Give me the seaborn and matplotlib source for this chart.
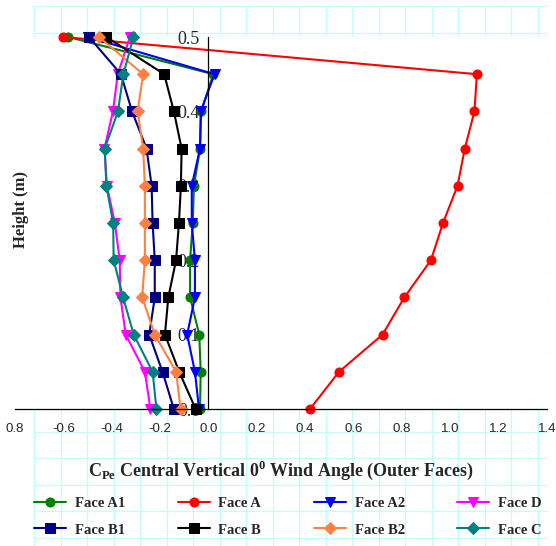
import pandas as pd
import matplotlib.pyplot as plt
import matplotlib
import seaborn as sns
from matplotlib.lines import Line2D

# data (heights from top to bottom)
heights = [0.5, 0.45, 0.4, 0.35, 0.3, 0.25, 0.2, 0.15, 0.1, 0.05, 0.0]
face_a1 = [-0.58, 0.02, -0.03, -0.035, -0.06, -0.065, -0.076, -0.076, -0.038, -0.032, -0.035]
face_a = [-0.60, 1.11, 1.10, 1.06, 1.03, 0.97, 0.92, 0.81, 0.72, 0.54, 0.42]
face_a2 = [-0.50, 0.025, -0.032, -0.035, -0.069, -0.069, -0.056, -0.056, -0.088, -0.056, -0.039]
face_d = [-0.325, -0.375, -0.395, -0.43, -0.42, -0.387, -0.367, -0.364, -0.342, -0.263, -0.24]
face_b1 = [-0.494, -0.362, -0.316, -0.256, -0.235, -0.231, -0.222, -0.222, -0.245, -0.19, -0.143]
face_b = [-0.422, -0.183, -0.143, -0.111, -0.114, -0.122, -0.134, -0.166, -0.18, -0.121, -0.053]
face_b2 = [-0.453, -0.27, -0.293, -0.27, -0.263, -0.263, -0.263, -0.274, -0.222, -0.134, -0.115]
face_c = [-0.31, -0.352, -0.374, -0.429, -0.422, -0.394, -0.392, -0.353, -0.309, -0.231, -0.215]

x_ticks = [-0.8, -0.6, -0.4, -0.2, 0.0, 0.2, 0.4, 0.6, 0.8, 1.0, 1.2, 1.4]
x_tick_labels = ["0.8", "-0.6", "-0.4", "-0.2", "0.0", "0.2", "0.4", "0.6", "0.8", "1.0", "1.2", "1.4"]
y_ticks = [0.0, 0.1, 0.2, 0.3, 0.4, 0.5]
y_tick_labels = ["0.0", "0.1", "0.2", "0.3", "0.4", "0.5"]

df = pd.DataFrame({"height": heights, "Face A1": face_a1, "Face A": face_a,
                   "Face A2": face_a2, "Face D": face_d, "Face B1": face_b1,
                   "Face B": face_b, "Face B2": face_b2, "Face C": face_c})

styles = {
    "Face A1": ("#008000", "o"),
    "Face A": ("#FF0000", "o"),
    "Face A2": ("#0000FF", "v"),
    "Face D": ("#FF00FF", "v"),
    "Face B1": ("#000080", "s"),
    "Face B": ("#000000", "s"),
    "Face B2": ("#FF8040", "D"),
    "Face C": ("#008080", "D"),
}

sns.set_theme(style="white")
matplotlib.rcParams['font.family'] = ['Liberation Serif', 'DejaVu Serif']
matplotlib.rcParams['mathtext.fontset'] = 'custom'
matplotlib.rcParams['mathtext.rm'] = 'Liberation Serif:bold'
matplotlib.rcParams['mathtext.bf'] = 'Liberation Serif:bold'

W, H = 556, 546
fig = plt.figure(figsize=(W / 100, H / 100), dpi=100)
fig.patch.set_facecolor("white")

# spreadsheet cell lines showing behind the chart
cell_col = "#C4FCFC"
for i in range(20):
    xp = 34 + 26.5 * i
    fig.add_artist(Line2D([xp / W, xp / W], [1 - 6 / H, 0], transform=fig.transFigure,
                          color=cell_col, lw=0.9, zorder=-5))
for j in range(21):
    yp = 6 + 26.6 * j
    fig.add_artist(Line2D([34 / W, 547 / W], [1 - yp / H, 1 - yp / H], transform=fig.transFigure,
                          color=cell_col, lw=0.9, zorder=-5))

ax = fig.add_axes([15 / W, 1 - 409 / H, 532 / W, 372 / H])
ax.set_facecolor("white")

for name, (col, mk) in styles.items():
    ms = 7.5 if mk == "v" else 6.5
    sns.lineplot(data=df, x=name, y="height", orient="y", ax=ax, color=col,
                 marker=mk, markersize=ms, markeredgecolor=col, linewidth=1.5,
                 label=name, clip_on=False)

ax.set_xlim(-0.8, 1.4)
ax.set_ylim(0, 0.5)
ax.spines["top"].set_visible(False)
ax.spines["right"].set_visible(False)
ax.spines["left"].set_position(("data", 0))
ax.spines["bottom"].set_position(("data", 0))
for s in ("left", "bottom"):
    ax.spines[s].set_color("black")
    ax.spines[s].set_linewidth(0.9)
ax.set_axisbelow(True)

ax.set_xticks(x_ticks)
ax.set_xticklabels(x_tick_labels, fontfamily="Liberation Sans", fontsize=9.5)
ax.set_yticks(y_ticks)
ax.set_yticklabels(y_tick_labels, fontsize=13)
ax.tick_params(axis="x", direction="out", length=3, width=0.9, pad=7, color="black")
ax.tick_params(axis="y", direction="in", length=3, width=0.9, pad=6, color="black")

ax.set_xlabel(r"C$_{\mathrm{Pe}}$ Central Vertical 0$^{\mathrm{0}}$ Wind Angle (Outer Faces)",
              fontsize=13, fontweight="bold", va="center")
ax.xaxis.set_label_coords(0.5, (409 - 470) / 372)
ax.set_ylabel("Height (m)", fontsize=12, fontweight="bold", va="center")
ax.yaxis.set_label_coords(6 / 532, (409 - 210) / 372)

handles, labels = ax.get_legend_handles_labels()
order = ["Face A1", "Face B1", "Face A", "Face B", "Face A2", "Face B2", "Face D", "Face C"]
hmap = dict(zip(labels, handles))
ax.legend([hmap[k] for k in order], order, ncol=4, frameon=False,
          loc="upper left", bbox_to_anchor=(34 / W, 1 - 497 / H),
          bbox_transform=fig.transFigure, borderpad=0, borderaxespad=0,
          handlelength=2.2, handletextpad=0.6, columnspacing=3.6, labelspacing=0.9,
          prop={"family": "Liberation Serif", "weight": "bold", "size": 10.5})

plt.savefig("out.png", dpi=100)
